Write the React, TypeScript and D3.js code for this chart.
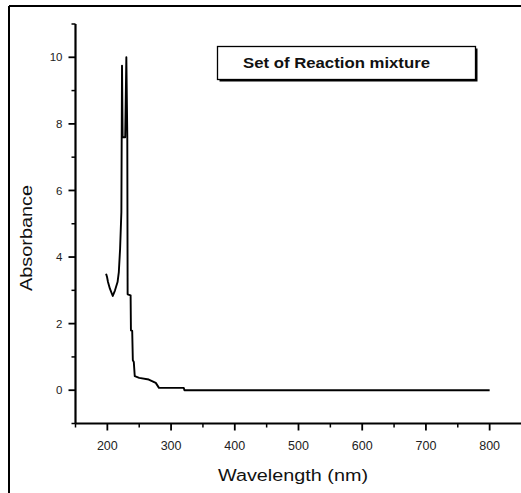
import React from "react";
import * as d3 from "d3";

const wavelengths = [198, 199.5, 201, 204, 208.5, 212, 216, 218, 220, 222, 223, 224, 226, 228, 229.8, 231.3, 231.8, 236.5, 237, 239, 240, 241.5, 243, 250, 265, 276, 281, 320, 321, 800];
const absorbance = [3.5, 3.4, 3.25, 3.05, 2.83, 3.0, 3.25, 3.55, 4.25, 5.35, 9.75, 7.6, 7.6, 7.6, 10.0, 7.6, 2.88, 2.85, 1.8, 1.78, 0.9, 0.85, 0.42, 0.37, 0.32, 0.22, 0.07, 0.07, 0.0, 0.0];

const xMajorTicks = [200, 300, 400, 500, 600, 700, 800];
const xMinorTicks = [150, 250, 350, 450, 550, 650, 750];
const yMajorTicks = [0, 2, 4, 6, 8, 10];
const yMinorTicks = [-1, 1, 3, 5, 7, 9, 11];

const legendLabel = "Set of Reaction mixture";
const xTitle = "Wavelength (nm)";
const yTitle = "Absorbance";

export default function App() {
  const W = 521, H = 493;
  const x = d3.scaleLinear().domain([150, 850]).range([75.5, 521.5]);
  const y = d3.scaleLinear().domain([-1, 11]).range([423.5, 24]);
  const pts: [number, number][] = wavelengths.map((w, i) => [w, absorbance[i]]);
  const line = d3.line<[number, number]>().x(d => x(d[0])).y(d => y(d[1]));
  const font = "Arial, 'Liberation Sans', sans-serif";
  const axisY = y(-1);
  const axisX = x(150);

  return (
    <svg width={W} height={H} style={{ position: "absolute", left: 0, top: 0, background: "#fff" }}>
      <rect x={0} y={0} width={W} height={H} fill="#fff" />
      {/* outer frame */}
      <line x1={9} y1={6} x2={W} y2={6} stroke="#000" strokeWidth={2} />
      <line x1={9} y1={6} x2={9} y2={H} stroke="#000" strokeWidth={2} />

      {/* axes */}
      <line x1={axisX} y1={y(11)} x2={axisX} y2={axisY} stroke="#000" strokeWidth={2.2} />
      <line x1={axisX} y1={axisY} x2={W} y2={axisY} stroke="#000" strokeWidth={2.2} />

      {yMajorTicks.map(t => (
        <g key={"ym" + t}>
          <line x1={axisX - 7} x2={axisX} y1={y(t)} y2={y(t)} stroke="#000" strokeWidth={1.8} />
          <text x={axisX - 13} y={y(t)} dy="0.36em" textAnchor="end" fontFamily={font} fontSize={11.5} fill="#222">{t}</text>
        </g>
      ))}
      {yMinorTicks.map(t => (
        <line key={"yn" + t} x1={axisX - 4} x2={axisX} y1={y(t)} y2={y(t)} stroke="#000" strokeWidth={1.5} />
      ))}
      {xMajorTicks.map(t => (
        <g key={"xm" + t}>
          <line x1={x(t)} x2={x(t)} y1={axisY} y2={axisY + 7} stroke="#000" strokeWidth={1.8} />
          <text x={x(t)} y={axisY + 26} textAnchor="middle" fontFamily={font} fontSize={12.5} fill="#222">{t}</text>
        </g>
      ))}
      {xMinorTicks.map(t => (
        <line key={"xn" + t} x1={x(t)} x2={x(t)} y1={axisY} y2={axisY + 4} stroke="#000" strokeWidth={1.5} />
      ))}

      <text x={218} y={481} fontFamily={font} fontSize={16} fill="#111" textLength={150} lengthAdjust="spacingAndGlyphs">{xTitle}</text>
      <text transform={`translate(32,291) rotate(-90)`} fontFamily={font} fontSize={16} fill="#111" textLength={106} lengthAdjust="spacingAndGlyphs">{yTitle}</text>

      {/* curve */}
      <path d={line(pts) || ""} fill="none" stroke="#000" strokeWidth={1.9} strokeLinejoin="round" />

      {/* legend */}
      <rect x={219.5} y={48.5} width={258} height={33} fill="#000" />
      <rect x={217.5} y={46.5} width={258} height={33} fill="#fff" stroke="#000" strokeWidth={1.3} />
      <text x={243} y={68} fontFamily={font} fontSize={14} fontWeight="bold" fill="#111" textLength={187} lengthAdjust="spacingAndGlyphs">{legendLabel}</text>
    </svg>
  );
}
